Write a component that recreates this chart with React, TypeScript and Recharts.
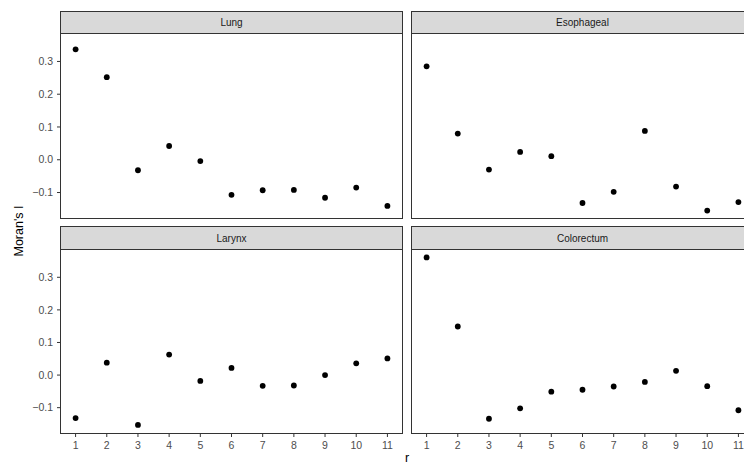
import React from "react";
import { ScatterChart, Scatter, XAxis, YAxis } from "recharts";

// lag order r and Moran's I per cancer site
const lags = [1, 2, 3, 4, 5, 6, 7, 8, 9, 10, 11];
const lung = [0.337, 0.252, -0.032, 0.042, -0.004, -0.107, -0.093, -0.092, -0.116, -0.085, -0.141];
const esophageal = [0.285, 0.08, -0.03, 0.024, 0.011, -0.132, -0.098, 0.088, -0.082, -0.155, -0.129];
const larynx = [-0.132, 0.038, -0.153, 0.063, -0.018, 0.022, -0.033, -0.032, 0.0, 0.036, 0.051];
const colorectum = [0.361, 0.149, -0.134, -0.102, -0.051, -0.045, -0.035, -0.021, 0.013, -0.034, -0.108];
const yTicks = [-0.1, 0, 0.1, 0.2, 0.3];

// ggplot-style 5% expansion of the shared scales
const allVals = [...lung, ...esophageal, ...larynx, ...colorectum];
const yMin = Math.min(...allVals);
const yMax = Math.max(...allVals);
const yPad = (yMax - yMin) * 0.05;
const yDomain = [yMin - yPad, yMax + yPad];
const xPad = (lags[lags.length - 1] - lags[0]) * 0.05;
const xDomain = [lags[0] - xPad, lags[lags.length - 1] + xPad];

const W = 770;
const H = 466;
const Y_AXIS_W = 40;
const X_AXIS_H = 30;
const cols = [
  { l: 60, r: 403 },
  { l: 411, r: 754 },
];
const rows = [
  { st: 11, t: 33, b: 219 },
  { st: 226, t: 249, b: 434 },
];

const font = "'Liberation Sans', Arial, sans-serif";
const tickFont = 10.5;

const fmt = (v: number) => {
  const s = Math.abs(v) < 1e-9 ? "0.0" : v.toFixed(1);
  return s.replace("-", "\u2212");
};

const Dot = (p: any) => <circle cx={p.cx} cy={p.cy} r={2.9} fill="#000" />;

interface PanelProps {
  title: string;
  values: number[];
  col: number;
  row: number;
}

function Panel({ title, values, col, row }: PanelProps) {
  const data = lags.map((r, i) => ({ r, moran: values[i] }));
  const c = cols[col];
  const w = rows[row];
  const showY = col === 0;
  const showX = row === 1;
  const margin = {
    top: w.t,
    bottom: H - w.b - (showX ? X_AXIS_H : 0),
    left: c.l - (showY ? Y_AXIS_W : 0),
    right: W - c.r,
  };
  return (
    <>
      <div style={{ position: "absolute", left: 0, top: 0 }}>
        <ScatterChart width={W} height={H} margin={margin}>
          <XAxis
            type="number"
            dataKey="r"
            domain={xDomain}
            ticks={lags}
            interval={0}
            hide={!showX}
            height={X_AXIS_H}
            axisLine={false}
            tickLine={{ stroke: "#333333" }}
            tickSize={3}
            tickMargin={5}
            tick={{ fill: "#4D4D4D", fontSize: tickFont }}
          />
          <YAxis
            type="number"
            dataKey="moran"
            domain={yDomain}
            ticks={yTicks}
            interval={0}
            hide={!showY}
            width={Y_AXIS_W}
            axisLine={false}
            tickLine={{ stroke: "#333333" }}
            tickSize={3}
            tickMargin={4}
            tick={{ fill: "#4D4D4D", fontSize: tickFont }}
            tickFormatter={fmt}
          />
          <Scatter data={data} shape={Dot} isAnimationActive={false} />
        </ScatterChart>
      </div>
      <div
        style={{
          position: "absolute",
          left: c.l,
          top: w.t,
          width: c.r - c.l,
          height: w.b - w.t,
          border: "1px solid #333333",
          boxSizing: "border-box",
          pointerEvents: "none",
        }}
      />
      <div
        style={{
          position: "absolute",
          left: c.l,
          top: w.st,
          width: c.r - c.l,
          height: w.t - w.st + 1,
          border: "1px solid #333333",
          boxSizing: "border-box",
          background: "#D9D9D9",
          color: "#1A1A1A",
          fontSize: 10,
          display: "flex",
          alignItems: "center",
          justifyContent: "center",
        }}
      >
        {title}
      </div>
    </>
  );
}

export default function App() {
  return (
    <div
      style={{
        position: "absolute",
        left: 0,
        top: 0,
        width: 744,
        height: 466,
        overflow: "hidden",
        background: "#fff",
        fontFamily: font,
      }}
    >
      <Panel title="Lung" values={lung} col={0} row={0} />
      <Panel title="Esophageal" values={esophageal} col={1} row={0} />
      <Panel title="Larynx" values={larynx} col={0} row={1} />
      <Panel title="Colorectum" values={colorectum} col={1} row={1} />
      <div
        style={{
          position: "absolute",
          left: 19,
          top: 231,
          transform: "translate(-50%, -50%) rotate(-90deg)",
          fontSize: 12.5,
          whiteSpace: "nowrap",
          color: "#000",
        }}
      >
        Moran's I
      </div>
      <div
        style={{
          position: "absolute",
          left: 407,
          top: 452,
          transform: "translateX(-50%)",
          fontSize: 12.5,
          lineHeight: "12px",
          color: "#000",
        }}
      >
        r
      </div>
    </div>
  );
}
